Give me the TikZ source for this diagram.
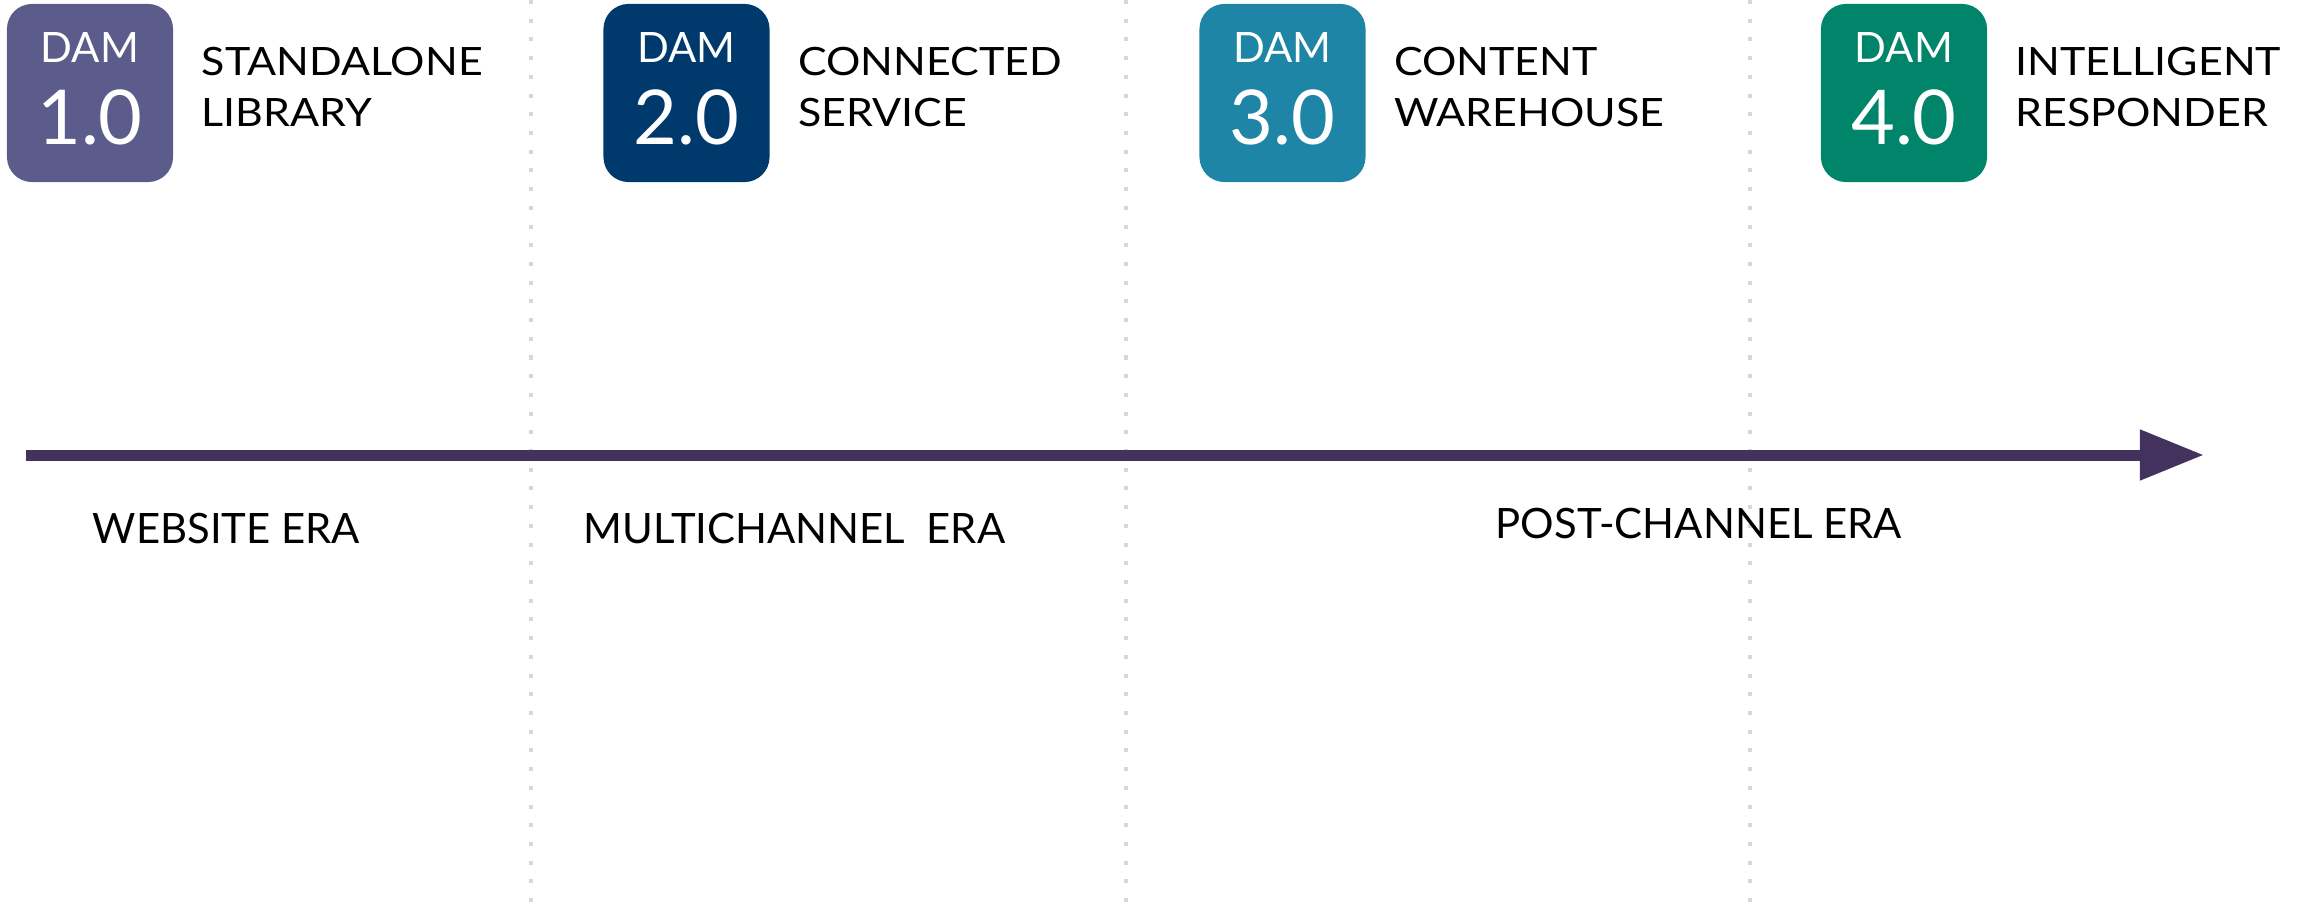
\documentclass[tikz,border=0pt]{standalone}
\usepackage{fontspec}
\setmainfont{Lato}
\newfontfamily\stagefont[FakeStretch=1.1]{Lato}
\usepackage{xcolor}
\usepackage{tikz}
\usetikzlibrary{arrows.meta}
\definecolor{damone}{HTML}{5C5C8C}
\definecolor{damtwo}{HTML}{003A6C}
\definecolor{damthree}{HTML}{1F85A6}
\definecolor{damfour}{HTML}{00856A}
\definecolor{linecolor}{HTML}{44325E}
\definecolor{dotcolor}{HTML}{D6D6E2}
\tikzset{
  dambox/.style={rounded corners=0.25cm, minimum width=1.66cm, minimum height=1.78cm, inner sep=0pt},
  damtag/.style={text=white, font=\fontsize{11.9}{12}\selectfont, anchor=base, inner sep=0pt},
  damnum/.style={text=white, font=\fontsize{21.5}{22}\selectfont, anchor=base, inner sep=0pt},
  stagetext/.style={font=\stagefont\fontsize{11.1}{14.5}\selectfont, align=left, anchor=north west, inner sep=0pt},
  eratext/.style={font=\fontsize{11.9}{12}\selectfont, anchor=base west, inner sep=0pt},
  divider/.style={dotcolor, line width=1.1pt, dash pattern=on 0.04cm off 0.147cm}
}

\begin{document}
\begin{tikzpicture}[x=0.01cm,y=-0.01cm]
\useasboundingbox (0,0) rectangle (2305,906);
\foreach \x/\n in {531/a, 1126/b, 1750/c}
   \draw[divider] (\x,0) coordinate (top\n) -- (\x,906) coordinate (bot\n);

\coordinate (tstart) at (26,455);
\coordinate (tend) at (2204,455);
\draw[linecolor, line width=0.11cm, -{Triangle[length=0.64cm,width=0.48cm]}] (tstart) -- (tend);

\foreach \i/\x/\col/\ver/\stagea/\stageb in {1/90/damone/1.0/STANDALONE/LIBRARY, 2/686.5/damtwo/2.0/CONNECTED/SERVICE, 3/1282.5/damthree/3.0/CONTENT/WAREHOUSE, 4/1904/damfour/4.0/INTELLIGENT/RESPONDER}
{
   \node[dambox, fill=\col] (dam\i) at (\x,93) {};
   \node[damtag] (tag\i) at (\x,62) {DAM};
   \node[damnum] (num\i) at (\x,144) {\ver};
   \node[stagetext] (stage\i) at (\x+111,47) {\stagea\\\stageb};
}

\node[eratext] (era1) at (92,543) {WEBSITE ERA};
\node[eratext] (era2) at (583,543) {MULTICHANNEL\ \ ERA};
\node[eratext] (era3) at (1495,538) {POST-CHANNEL ERA};
\end{tikzpicture}
\end{document}
